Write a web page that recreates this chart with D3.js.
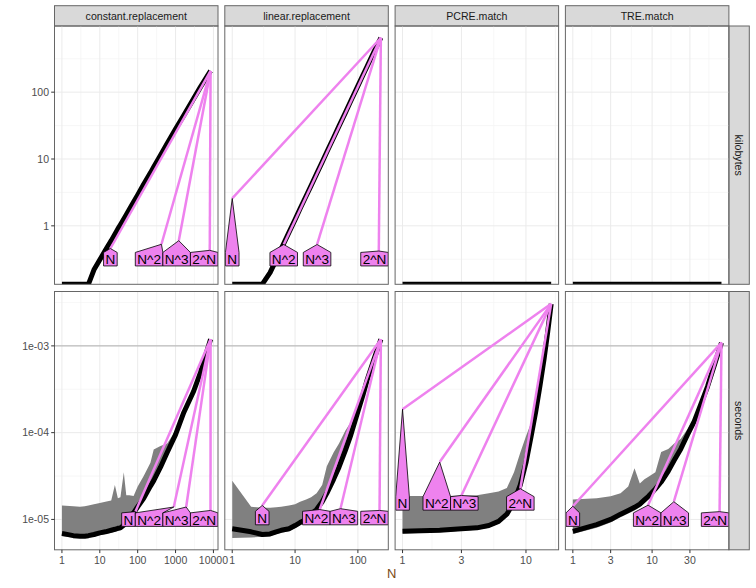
<!DOCTYPE html>
<meta charset="utf-8">
<style>
body { margin: 0; background: #fff; font-family: "Liberation Sans", Arial, sans-serif; }
.grid-major { stroke: #ebebeb; stroke-width: 1; fill: none; }
.grid-minor { stroke: #f4f4f4; stroke-width: 0.7; fill: none; }
.tick { stroke: #333; stroke-width: 1; }
.tick-label { font-size: 10.5px; fill: #4d4d4d; }
.strip rect { fill: #d9d9d9; stroke: #666; stroke-width: 1; }
.strip text { font-size: 10.6px; fill: #1a1a1a; text-anchor: middle; }
.median { fill: none; stroke: #000; stroke-width: 5; stroke-linejoin: round; }
.ribbon { fill: #808080; stroke: none; }
.ref { fill: none; stroke: #ee82ee; stroke-width: 2.5; }
.dl polygon { fill: #ee82ee; stroke: #000; stroke-width: 0.8; }
.dl text { font-size: 13.6px; fill: #000; text-anchor: middle; }
</style>
<body>
<script src="https://cdn.jsdelivr.net/npm/d3@7/dist/d3.min.js"></script>
<script>
// facets
var columns = ["constant.replacement", "linear.replacement", "PCRE.match", "TRE.match"];
var rows = ["kilobytes", "seconds"];

// constant.replacement
var constN      = [1, 2, 3, 4, 5, 7, 10, 14, 20, 25, 30, 35, 43, 50, 60, 78, 100, 144, 217, 265, 400, 600, 1000, 1650, 3000, 4560, 8400];
var constKB     = [0, 0, 0, 0, 0, 0.22, 0.31, 0.43, 0.6, 0.75, 0.9, 1.04, 1.27, 1.47, 1.76, 2.28, 2.9, 4.2, 6.2, 7.6, 11.4, 17, 28, 45, 80, 120, 208];
var constMedian = [6.9e-6, 6.5e-6, 6.4e-6, 6.4e-6, 6.5e-6, 6.7e-6, 7.0e-6, 7.2e-6, 7.5e-6, 7.7e-6, 7.9e-6, 8.0e-6, 8.6e-6, 1.0e-5, 1.08e-5, 1.19e-5, 1.4e-5, 1.75e-5, 2.42e-5, 2.8e-5, 4.0e-5, 5.9e-5, 9.5e-5, 1.71e-4, 3.0e-4, 4.96e-4, 1.19e-3];
var constMax    = [1.45e-5, 1.42e-5, 1.4e-5, 1.42e-5, 1.45e-5, 1.5e-5, 1.55e-5, 1.6e-5, 1.65e-5, 2.5e-5, 1.75e-5, 1.8e-5, 3.5e-5, 1.9e-5, 1.9e-5, 1.86e-5, 2.4e-5, 3.16e-5, 4.5e-5, 6.4e-5, 7.0e-5, 7.5e-5, 1.05e-4, 1.85e-4, 3.2e-4, 5.2e-4, 1.22e-3];
var constMin    = [6.4e-6, 6.2e-6, 6.2e-6, 6.2e-6, 6.2e-6, 6.3e-6, 6.6e-6, 6.8e-6, 7.0e-6, 7.2e-6, 7.4e-6, 7.5e-6, 8.0e-6, 9.3e-6, 1.0e-5, 1.1e-5, 1.3e-5, 1.62e-5, 2.25e-5, 2.6e-5, 3.7e-5, 5.5e-5, 8.8e-5, 1.6e-4, 2.8e-4, 4.6e-4, 1.1e-3];

// linear.replacement
var linN      = [1, 2, 3, 4, 5, 6, 8, 10, 12, 15, 18, 22, 27, 32, 41, 50, 63, 76, 100, 120, 141, 180, 232];
var linKB     = [0, 0, 0, 0.2, 0.31, 0.45, 0.8, 1.24, 1.8, 2.8, 4.0, 6.0, 9.0, 12.7, 20.8, 31, 49, 72, 124, 179, 246, 400, 652];
var linMedian = [7.8e-6, 7.2e-6, 6.7e-6, 6.8e-6, 7.2e-6, 7.5e-6, 7.8e-6, 8.5e-6, 9.2e-6, 1.0e-5, 1.15e-5, 1.3e-5, 1.6e-5, 2.0e-5, 2.9e-5, 4.0e-5, 6.2e-5, 9.1e-5, 1.75e-4, 2.7e-4, 4.1e-4, 7.0e-4, 1.19e-3];
var linMax    = [2.8e-5, 1.4e-5, 1.36e-5, 1.36e-5, 1.38e-5, 1.4e-5, 1.45e-5, 1.5e-5, 1.6e-5, 1.7e-5, 1.8e-5, 2.0e-5, 2.5e-5, 4.1e-5, 5.9e-5, 7.5e-5, 1.05e-4, 1.3e-4, 1.95e-4, 2.9e-4, 4.3e-4, 7.2e-4, 1.21e-3];
var linMin    = [6.1e-6, 6.2e-6, 6.3e-6, 6.4e-6, 6.8e-6, 7.0e-6, 7.3e-6, 7.9e-6, 8.6e-6, 9.3e-6, 1.07e-5, 1.2e-5, 1.5e-5, 1.86e-5, 2.7e-5, 3.7e-5, 5.8e-5, 8.5e-5, 1.63e-4, 2.5e-4, 3.8e-4, 6.5e-4, 1.1e-3];

// PCRE.match
var pcreN      = [1, 2, 3, 4, 5, 6, 7, 8, 9, 10, 11, 12, 13, 14, 15, 16];
var pcreKB     = [0, 0, 0, 0, 0, 0, 0, 0, 0, 0, 0, 0, 0, 0, 0, 0];
var pcreMedian = [7.3e-6, 7.5e-6, 7.8e-6, 8.0e-6, 8.5e-6, 9.5e-6, 1.15e-5, 1.6e-5, 2.5e-5, 4.5e-5, 9.0e-5, 1.75e-4, 3.5e-4, 7.0e-4, 1.45e-3, 3.05e-3];
var pcreMax    = [1.86e-5, 1.86e-5, 1.87e-5, 1.9e-5, 2.0e-5, 2.1e-5, 2.3e-5, 3.5e-5, 5.9e-5, 9.1e-5, 1.3e-4, 2.0e-4, 3.8e-4, 7.3e-4, 1.5e-3, 3.1e-3];
var pcreMin    = [6.9e-6, 7.1e-6, 7.4e-6, 7.6e-6, 8.0e-6, 9.0e-6, 1.08e-5, 1.5e-5, 2.35e-5, 4.2e-5, 8.5e-5, 1.65e-4, 3.3e-4, 6.6e-4, 1.38e-3, 2.95e-3];

// TRE.match
var treN      = [1, 2, 3, 4, 5, 6, 7, 8, 9, 11, 13, 16, 19, 23, 28, 34, 41, 50, 61, 75];
var treKB     = [0, 0, 0, 0, 0, 0, 0, 0, 0, 0, 0, 0, 0, 0, 0, 0, 0, 0, 0, 0];
var treMedian = [7.3e-6, 8.7e-6, 1.0e-5, 1.15e-5, 1.27e-5, 1.38e-5, 1.5e-5, 1.68e-5, 1.85e-5, 2.25e-5, 2.7e-5, 3.6e-5, 4.8e-5, 6.5e-5, 9.5e-5, 1.35e-4, 2.1e-4, 3.4e-4, 6.0e-4, 1.09e-3];
var treMax    = [1.7e-5, 1.75e-5, 1.85e-5, 2.0e-5, 2.4e-5, 3.9e-5, 2.6e-5, 2.9e-5, 3.1e-5, 3.5e-5, 6.0e-5, 6.5e-5, 7.5e-5, 8.5e-5, 1.1e-4, 1.5e-4, 2.3e-4, 3.6e-4, 6.2e-4, 1.12e-3];
var treMin    = [6.8e-6, 8.0e-6, 9.2e-6, 1.06e-5, 1.17e-5, 1.27e-5, 1.38e-5, 1.55e-5, 1.7e-5, 2.07e-5, 2.48e-5, 3.3e-5, 4.4e-5, 6.0e-5, 8.7e-5, 1.24e-4, 1.93e-4, 3.1e-4, 5.5e-4, 1.0e-3];

// reference lines: end point [N, value] of N, N^2, N^3, 2^N
var refLabels = ["N", "N^2", "N^3", "2^N"];
var constRefKB  = [[19, 0.458], [424, 0.53], [1216, 0.6], [8000, 0.43]];
var linRefKB    = [[1, 2.57], [6.6, 0.526], [22.4, 0.526], [215, 0.42]];
var constRefSec = [[87, 1.23e-5], [896, 1.39e-5], [1906, 1.39e-5], [8380, 1.27e-5]];
var linRefSec   = [[3, 1.45e-5], [24.7, 1.3e-5], [52.8, 1.33e-5], [221, 1.27e-5]];
var pcreRefSec  = [[1, 1.86e-4], [2, 4.58e-5], [3, 1.89e-5], [9, 2.26e-5]];
var treRefSec   = [[1, 1.42e-5], [8.9, 1.46e-5], [18.8, 1.6e-5], [71, 1.23e-5]];
// level of the label boxes
var labelFloorKB  = [0.40, 0.40, null, null];
var labelFloorSec = [1.19e-5, 1.24e-5, 1.83e-5, 1.19e-5];

// ticks
var xTicks = [[1, 10, 100, 1000, 10000], [1, 10, 100], [1, 3, 10], [1, 3, 10, 30]];
var yTicks = [[1, 10, 100], [1e-5, 1e-4, 1e-3]];
var yTickLabels = [["1", "10", "100"], ["1e-05", "1e-04", "1e-03"]];
var secondsLimit = 1e-3;

// layout
var W = 756, H = 588;
var left = 54.5, panelW = 163.5, gapX = 6.8;
var stripTop = 5.7, stripH = 20.3, panelH = 258.3, gapY = 7.2;
var rightStripW = 20.4;

var colData = [
  { N: constN, kb: constKB, med: constMedian, min: constMin, max: constMax, refKB: constRefKB, refSec: constRefSec },
  { N: linN, kb: linKB, med: linMedian, min: linMin, max: linMax, refKB: linRefKB, refSec: linRefSec },
  { N: pcreN, kb: pcreKB, med: pcreMedian, min: pcreMin, max: pcreMax, refKB: null, refSec: pcreRefSec },
  { N: treN, kb: treKB, med: treMedian, min: treMin, max: treMax, refKB: null, refSec: treRefSec }
];

var svg = d3.select("body").append("svg")
  .attr("width", W).attr("height", H);

function logDomain(vals) {
  var pos = vals.filter(function(v) { return v > 0; });
  var lo = Math.log10(d3.min(pos)), hi = Math.log10(d3.max(pos)), e = (hi - lo) * 0.05;
  return [Math.pow(10, lo - e), Math.pow(10, hi + e)];
}

// ggplot style minor breaks halfway between majors (in log space)
function minorBreaks(ticks, domain) {
  var b = ticks.map(Math.log10), lim = domain.map(Math.log10);
  var bd = b[1] - b[0];
  if (lim[0] < b[0]) b.unshift(b[0] - bd);
  if (lim[1] > b[b.length - 1]) b.push(b[b.length - 1] + bd);
  var out = [];
  for (var i = 0; i < b.length - 1; i++) out.push((b[i] + b[i + 1]) / 2);
  return out.filter(function(v) { return v > lim[0] && v < lim[1]; }).map(function(v) { return Math.pow(10, v); });
}

var xScales = colData.map(function(c, i) {
  return d3.scaleLog().domain(logDomain(c.N)).range([0, panelW]);
});
var yKB = d3.scaleLog().domain(logDomain(d3.merge(colData.map(function(c) { return c.kb; })))).range([panelH, 0]);
var ySec = d3.scaleLog().domain(logDomain(d3.merge(colData.map(function(c) { return c.min.concat(c.max); })))).range([panelH, 0]);
var yScales = [yKB, ySec];

// top strips
columns.forEach(function(name, ci) {
  var s = svg.append("g").attr("class", "strip")
    .attr("transform", "translate(" + (left + ci * (panelW + gapX)) + "," + stripTop + ")");
  s.append("rect").attr("width", panelW).attr("height", stripH);
  s.append("text").attr("x", panelW / 2).attr("y", stripH / 2 + 3.8).text(name);
});

// right strips
rows.forEach(function(name, ri) {
  var y0 = stripTop + stripH + ri * (panelH + gapY);
  var x0 = left + 4 * panelW + 3 * gapX;
  var s = svg.append("g").attr("class", "strip").attr("transform", "translate(" + x0 + "," + y0 + ")");
  s.append("rect").attr("width", rightStripW).attr("height", panelH);
  s.append("text").attr("transform", "translate(" + (rightStripW / 2 - 3.8) + "," + (panelH / 2) + ") rotate(90)").text(name);
});

// spread label boxes along x without overlap (isotonic fit, like qp.labels)
function spreadLabels(items, lo, hi) {
  var off = [], acc = 0;
  items.forEach(function(d, i) {
    if (i > 0) acc += (items[i - 1].w + d.w) / 2;
    off.push(acc);
  });
  var blocks = [];
  items.forEach(function(d, i) {
    blocks.push({ sum: d.t - off[i], n: 1 });
    while (blocks.length > 1) {
      var b = blocks[blocks.length - 1], a = blocks[blocks.length - 2];
      if (a.sum / a.n > b.sum / b.n) { a.sum += b.sum; a.n += b.n; blocks.pop(); } else break;
    }
  });
  var s = [];
  blocks.forEach(function(b) { for (var k = 0; k < b.n; k++) s.push(b.sum / b.n); });
  var n = items.length;
  var sLo = lo + items[0].w / 2 - off[0], sHi = hi - items[n - 1].w / 2 - off[n - 1];
  items.forEach(function(d, i) { d.c = Math.max(sLo, Math.min(sHi, s[i])) + off[i]; });
}

rows.forEach(function(rowName, ri) {
  colData.forEach(function(c, ci) {
    var x = xScales[ci], y = yScales[ri];
    var px = left + ci * (panelW + gapX), py = stripTop + stripH + ri * (panelH + gapY);
    var g = svg.append("g").attr("transform", "translate(" + px + "," + py + ")");
    var clipId = "clip" + ri + ci;
    g.append("clipPath").attr("id", clipId).append("rect").attr("width", panelW).attr("height", panelH);

    // grid
    var grid = g.append("g");
    minorBreaks(yTicks[ri], y.domain()).forEach(function(v) {
      grid.append("line").attr("class", "grid-minor").attr("x1", 0).attr("x2", panelW).attr("y1", y(v)).attr("y2", y(v));
    });
    minorBreaks(xTicks[ci], x.domain()).forEach(function(v) {
      grid.append("line").attr("class", "grid-minor").attr("y1", 0).attr("y2", panelH).attr("x1", x(v)).attr("x2", x(v));
    });
    yTicks[ri].forEach(function(v) {
      grid.append("line").attr("class", "grid-major").attr("x1", 0).attr("x2", panelW).attr("y1", y(v)).attr("y2", y(v));
    });
    xTicks[ci].forEach(function(v) {
      if (v > x.domain()[1]) return;
      grid.append("line").attr("class", "grid-major").attr("y1", 0).attr("y2", panelH).attr("x1", x(v)).attr("x2", x(v));
    });
    if (rowName === "seconds") {
      g.append("line").attr("x1", 0).attr("x2", panelW).attr("y1", y(secondsLimit)).attr("y2", y(secondsLimit))
        .attr("stroke", "#b0b0b0").attr("stroke-width", 1);
    }

    var plot = g.append("g").attr("clip-path", "url(#" + clipId + ")");
    var vals = rowName === "seconds" ? c.med : c.kb;
    var pts = c.N.map(function(n, i) { return { N: n, v: vals[i], lo: c.min[i], hi: c.max[i] }; });
    var yv = function(v) { return v > 0 ? y(v) : panelH; };

    if (rowName === "seconds") {
      plot.append("path").attr("class", "ribbon")
        .attr("d", d3.area().x(function(d) { return x(d.N); })
          .y0(function(d) { return y(d.lo); }).y1(function(d) { return y(d.hi); })(pts));
    }
    plot.append("path").attr("class", "median")
      .attr("d", d3.line().x(function(d) { return x(d.N); }).y(function(d) { return yv(d.v); })(pts));

    var refs = rowName === "seconds" ? c.refSec : c.refKB;
    if (!refs) {
      g.append("rect").attr("width", panelW).attr("height", panelH).attr("fill", "none").attr("stroke", "#666");
      return;
    }
    var top = pts[pts.length - 1];
    refs.forEach(function(r) {
      plot.append("line").attr("class", "ref")
        .attr("x1", x(top.N)).attr("y1", y(top.v)).attr("x2", x(r[0])).attr("y2", y(r[1]));
    });

    // direct labels
    var floorVal = rowName === "seconds" ? labelFloorSec[ci] : labelFloorKB[ci];
    var boxTop = y(floorVal), boxH = 13.5;
    var dl = plot.append("g").attr("class", "dl");
    var items = refs.map(function(r, k) {
      var t = dl.append("text").text(refLabels[k]);
      var w = t.node().getComputedTextLength() + 3.8;
      t.remove();
      return { label: refLabels[k], tx: x(r[0]), ty: y(r[1]), t: x(r[0]), w: w };
    });
    items.sort(function(a, b) { return a.t - b.t; });
    spreadLabels(items, 0, panelW);
    items.forEach(function(d) {
      var l = d.c - d.w / 2, r = d.c + d.w / 2;
      var poly = [[l, boxTop], [d.tx, d.ty], [r, boxTop], [r, boxTop + boxH], [l, boxTop + boxH]];
      dl.append("polygon").attr("points", poly.map(function(p) { return p.join(","); }).join(" "));
      dl.append("text").attr("x", d.c).attr("y", boxTop + boxH / 2 + 5).text(d.label);
    });

    g.append("rect").attr("width", panelW).attr("height", panelH).attr("fill", "none").attr("stroke", "#666");
  });
});

// y axes (left column)
rows.forEach(function(r, ri) {
  var py = stripTop + stripH + ri * (panelH + gapY);
  var g = svg.append("g").attr("transform", "translate(" + left + "," + py + ")");
  yTicks[ri].forEach(function(v, k) {
    var yy = yScales[ri](v);
    g.append("line").attr("class", "tick").attr("x1", -3.3).attr("x2", 0).attr("y1", yy).attr("y2", yy);
    g.append("text").attr("class", "tick-label").attr("x", -5.5).attr("y", yy + 3.7)
      .attr("text-anchor", "end").text(yTickLabels[ri][k]);
  });
});

// x axes (bottom row)
var fmtN = d3.format("d");
columns.forEach(function(name, ci) {
  var px = left + ci * (panelW + gapX), py = stripTop + stripH + 2 * panelH + gapY;
  var g = svg.append("g").attr("transform", "translate(" + px + "," + py + ")");
  xTicks[ci].forEach(function(v) {
    var xx = xScales[ci](v);
    g.append("line").attr("class", "tick").attr("x1", xx).attr("x2", xx).attr("y1", 0).attr("y2", 3.3);
    g.append("text").attr("class", "tick-label").attr("x", xx).attr("y", 14.2)
      .attr("text-anchor", "middle").text(fmtN(v));
  });
});

svg.append("text").attr("x", left + (4 * panelW + 3 * gapX) / 2).attr("y", 578)
  .attr("text-anchor", "middle").attr("font-size", "13px").attr("fill", "#7a4a12").text("N");
</script>
</body>
